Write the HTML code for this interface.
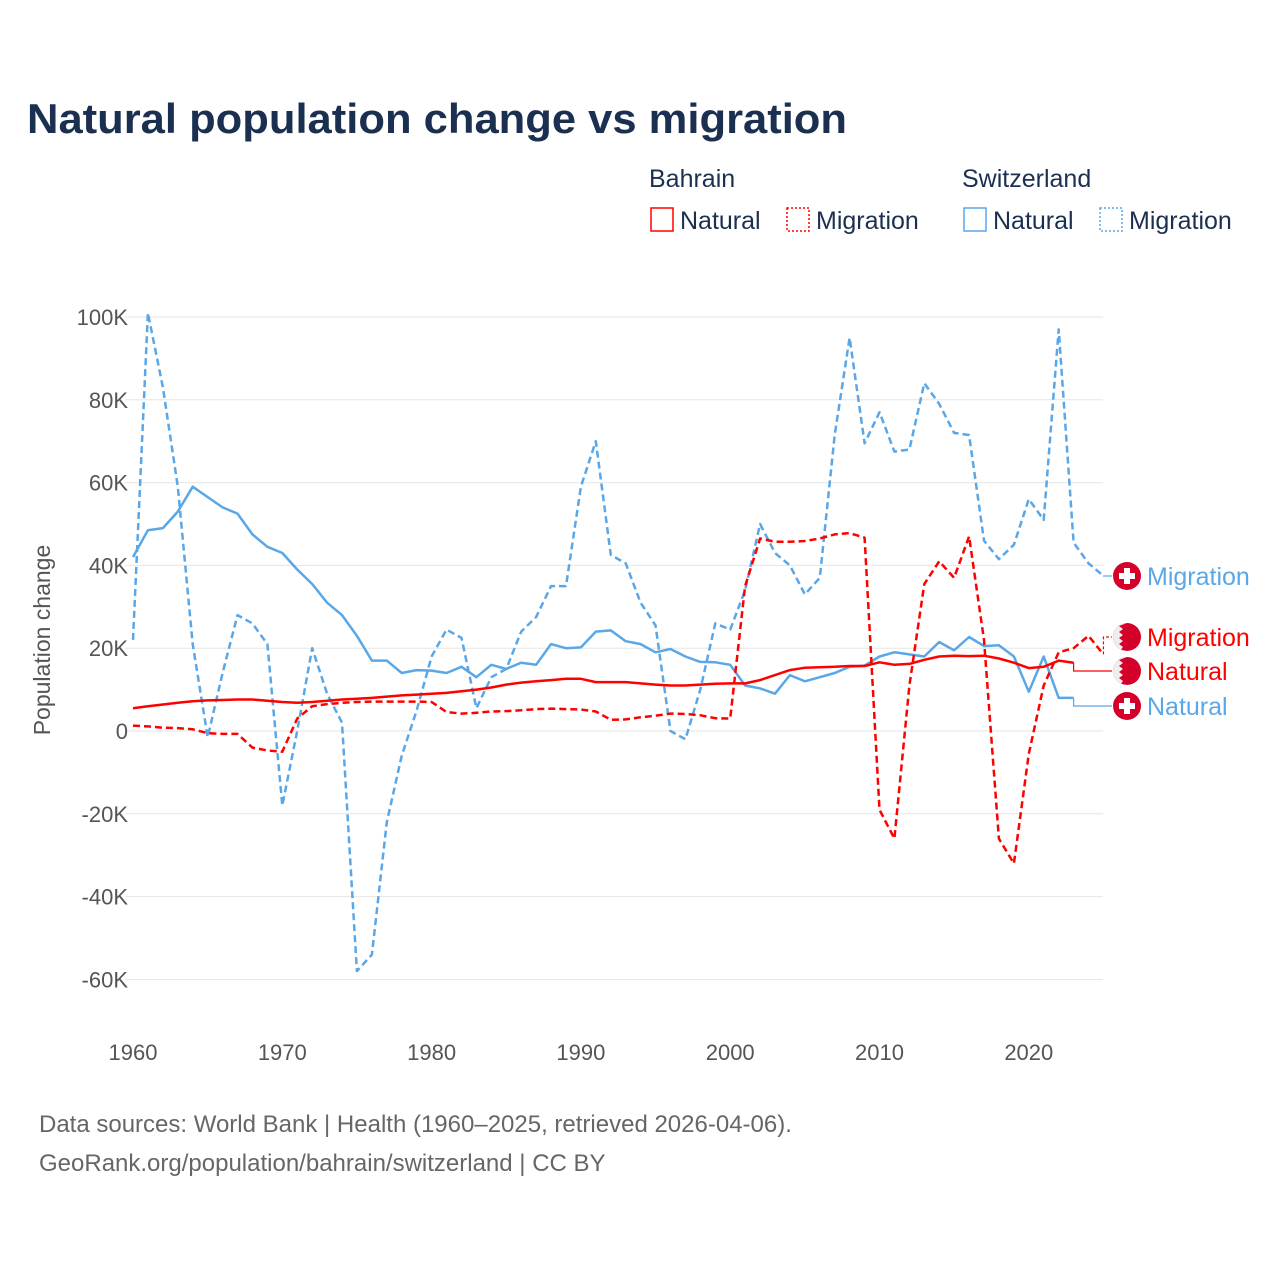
<!DOCTYPE html>
<html><head><meta charset="utf-8">
<style>
body{margin:0;background:#fff;font-family:"Liberation Sans",sans-serif;}
svg text{font-family:"Liberation Sans",sans-serif;}
</style></head>
<body>
<svg id="chart" width="1280" height="1280" viewBox="0 0 1280 1280" xmlns="http://www.w3.org/2000/svg">
<text x="27" y="133" font-size="42" font-weight="bold" fill="#1b3050" textLength="820" lengthAdjust="spacingAndGlyphs">Natural population change vs migration</text>
<g font-size="25" fill="#1b3050">
<text x="649" y="187">Bahrain</text>
<text x="962" y="187">Switzerland</text>
<g><rect x="651" y="208" width="22" height="23" fill="none" stroke="#ff0000" stroke-width="1.5"/><text x="680" y="229">Natural</text></g>
<g><rect x="787" y="208" width="22" height="23" fill="none" stroke="#ff0000" stroke-width="1.5" stroke-dasharray="2,2"/><text x="816" y="229">Migration</text></g>
<g><rect x="964" y="208" width="22" height="23" fill="none" stroke="#5aa7e8" stroke-width="1.5"/><text x="993" y="229">Natural</text></g>
<g><rect x="1100" y="208" width="22" height="23" fill="none" stroke="#5aa7e8" stroke-width="1.5" stroke-dasharray="2,2"/><text x="1129" y="229">Migration</text></g>
</g>
<g id="grid"></g>
<g id="axes"></g>
<text transform="translate(50,640) rotate(-90)" text-anchor="middle" font-size="23" fill="#555">Population change</text>
<g id="series"></g>
<g id="labels"></g>
<text x="39" y="1132" font-size="24" fill="#666">Data sources: World Bank | Health (1960–2025, retrieved 2026-04-06).</text>
<text x="39" y="1171" font-size="24" fill="#666">GeoRank.org/population/bahrain/switzerland | CC BY</text>
</svg>
<script>
const startYear = 1960;
const yTicks = [-60, -40, -20, 0, 20, 40, 60, 80, 100];
const yTickLabels = ["-60K","-40K","-20K","0","20K","40K","60K","80K","100K"];
const xTicks = [1960,1970,1980,1990,2000,2010,2020];
const chNatural = [42,48.5,49,53,59,56.5,54,52.5,47.5,44.5,43,39,35.5,31,28,23,17,17,14,14.7,14.6,14,15.5,13,16,15,16.5,16,21,20,20.2,24,24.3,21.7,21,19,19.8,18,16.7,16.6,16,11,10.3,9,13.5,12,13,14,15.5,15.8,18,19,18.5,18,21.5,19.5,22.7,20.5,20.7,18,9.5,18,8,8];
const chMigration = [22,101,83,59,21,-1.5,14,28,26,21,-18,0,20,9,2,-58,-54,-22,-6,5,18,24.5,22.5,5.5,13,15,24,27.5,35,35,59,70,42.5,40.5,31,25.5,0,-2,10,26,24.5,34,50,43,40,33,37,71.5,95,69.5,77,67.5,68,84,79,72,71.5,46,41.5,45,56,51,97,45.5,40.5,37.5];
const bhNatural = [5.5,6,6.4,6.8,7.2,7.4,7.5,7.6,7.6,7.3,7,6.8,7,7.3,7.6,7.8,8,8.3,8.6,8.8,9,9.2,9.6,10,10.5,11.2,11.7,12,12.3,12.6,12.6,11.8,11.8,11.8,11.5,11.2,11,11,11.2,11.4,11.5,11.5,12.3,13.5,14.7,15.3,15.4,15.5,15.7,15.7,16.6,16,16.2,17.2,18,18.2,18.1,18.2,17.5,16.5,15.2,15.5,17,16.5];
const bhMigration = [1.3,1.1,0.8,0.7,0.4,-0.5,-0.7,-0.7,-4,-4.7,-5,3,6,6.5,6.8,7,7.1,7.1,7.1,7.1,7,4.6,4.2,4.4,4.7,4.8,5,5.3,5.4,5.3,5.2,4.7,2.7,2.8,3.3,3.7,4.2,4.1,3.8,3.1,3,35,46.5,45.7,45.7,45.9,46.5,47.5,47.8,46.7,-19,-26,11,35.5,41,37,47,22,-26,-32,-5.5,11,19,20,23,18.5];

const NS="http://www.w3.org/2000/svg";
const X0=133, PXYR=14.93, Y0=731, PXK=4.14, XR=1103;
const xs = y => X0 + (y - startYear) * PXYR;
const ys = v => Y0 - v * PXK;
function mk(tag, attrs, parent){const e=document.createElementNS(NS,tag);for(const k in attrs)e.setAttribute(k,attrs[k]);parent.appendChild(e);return e;}
const grid=document.getElementById('grid'), axes=document.getElementById('axes'), series=document.getElementById('series'), labels=document.getElementById('labels');
yTicks.forEach((t,i)=>{
  const l=mk('line',{x1:125,x2:XR,y1:ys(t),y2:ys(t),stroke:'#e6e6e6','stroke-width':1},grid);
  
  
  const tx=mk('text',{x:128,y:ys(t)+8,'text-anchor':'end','font-size':22,fill:'#555'},axes);
  tx.textContent=yTickLabels[i];
  
  
});
xTicks.forEach(t=>{
  const tx=mk('text',{x:xs(t),y:1060,'text-anchor':'middle','font-size':22,fill:'#555'},axes);
  tx.textContent=t;
  
  
});
function line(arr,color,dash,name){
  const d=arr.map((v,i)=>(i?'L':'M')+xs(startYear+i).toFixed(1)+','+ys(v).toFixed(1)).join('');
  const p=mk('path',{d:d,fill:'none',stroke:color,'stroke-width':2.5,'stroke-dasharray':dash,'stroke-linejoin':'round'},series);
  
  
}
const RED='#ff0000', BLUE='#5aa7e8';
line(chNatural,BLUE,'none','line-switzerland-natural');
line(chMigration,BLUE,'7,4','line-switzerland-migration');
line(bhNatural,RED,'none','line-bahrain-natural');
line(bhMigration,RED,'7,4','line-bahrain-migration');
function endLabel(arr,color,ly,text,flag,name,dash){
  const lx=xs(startYear+arr.length-1), lv=ys(arr[arr.length-1]);
  const sx=lx<1072?1072:lx;
  const c=mk('path',{d:`M${lx},${lv}L${sx},${lv}L${sx},${ly}L1112,${ly}`,fill:'none',stroke:color,'stroke-width':1.2,'stroke-dasharray':dash},labels);
  
  
  const g=mk('g',{},labels);
  
  
  mk('circle',{cx:1127,cy:ly,r:14,fill:'#d4002a'},g);
  if(flag==='ch'){mk('rect',{x:1124,y:ly-8,width:6,height:16,fill:'#fff'},g);mk('rect',{x:1119,y:ly-3,width:16,height:6,fill:'#fff'},g);}
  else{mk('path',{d:`M1127,${ly-14}A14,14 0 0 0 1127,${ly+14}L1120,${ly+14}L1123,${ly+10}L1119,${ly+7}L1123,${ly+4}L1119,${ly+1}L1123,${ly-2}L1119,${ly-5}L1123,${ly-8}L1119,${ly-11}Z`,fill:'#eee'},g);}
  const t=mk('text',{x:1147,y:ly+9,'font-size':25,fill:color},labels);
  t.textContent=text;
  
  
}
endLabel(chMigration,BLUE,576,'Migration','ch','end-switzerland-migration','none');
endLabel(bhMigration,RED,637,'Migration','bh','end-bahrain-migration','3,2');
endLabel(bhNatural,RED,671,'Natural','bh','end-bahrain-natural','none');
endLabel(chNatural,BLUE,706,'Natural','ch','end-switzerland-natural','none');
</script>
</body></html>
